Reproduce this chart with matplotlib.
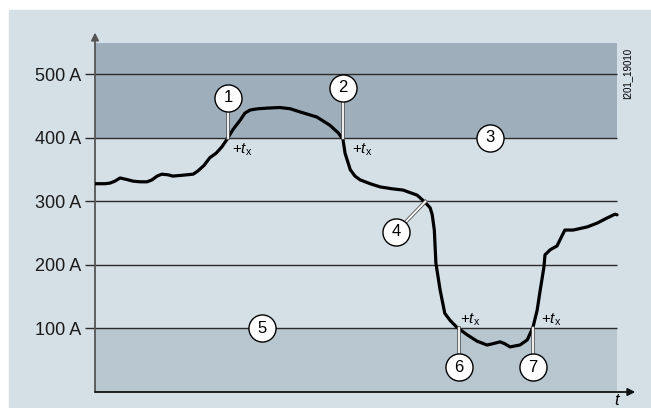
"""Current curve with limit bands and delayed trip points."""

from __future__ import annotations

import matplotlib

matplotlib.use("Agg")

import matplotlib.patheffects as pe
import matplotlib.pyplot as plt
from matplotlib.patches import Rectangle

plt.rcParams["font.family"] = ["Liberation Sans", "DejaVu Sans"]
plt.rcParams["mathtext.fontset"] = "custom"
plt.rcParams["mathtext.it"] = "Liberation Sans:italic"
plt.rcParams["mathtext.rm"] = "Liberation Sans"

# time axis is unitless (0..100), current in A
TIME = [0, 1.9, 2.9, 3.8, 4.8, 5.9, 7.3, 8.6, 10.0, 10.9, 11.9, 12.8, 14.0, 14.9,
        16.3, 17.6, 18.8, 19.7, 20.9, 22.0, 23.2, 24.3, 25.3, 26.4, 27.8, 28.7,
        29.7, 31.2, 33.0, 35.4, 37.4, 39.3, 42.5, 45.0, 46.6, 47.5, 47.9, 48.9,
        49.8, 50.8, 52.7, 54.6, 56.9, 59.0, 61.7, 63.2, 64.2, 64.6, 65.0, 65.3,
        66.1, 67.0, 68.0, 69.3, 71.3, 73.2, 75.1, 76.2, 77.6, 78.5, 79.5, 81.4,
        82.8, 83.9, 84.7, 85.2, 86.0, 86.2, 87.2, 88.5, 90.0, 91.6, 94.3, 96.2,
        98.1, 99.6, 100]
CURRENT = [328, 328, 329, 332, 337, 335, 332, 331, 331, 334, 340, 343, 342, 340,
           341, 342, 343, 348, 357, 369, 376, 386, 398, 413, 428, 439,
           444, 446, 447, 448, 446, 441, 433, 420, 408, 398, 376, 350,
           340, 334, 328, 323, 320, 318, 310, 299, 290, 279, 255, 203,
           161, 124, 113, 102, 90, 80, 74, 76, 79, 76, 71, 74,
           82, 102, 129, 156, 197, 216, 224, 230, 255, 255, 260, 266,
           274, 280, 279]

GRID_LEVELS = [100, 200, 300, 400, 500]
GRID_LABELS = ["100 A", "200 A", "300 A", "400 A", "500 A"]
UPPER_BAND = (400, 550)
LOWER_BAND = (0, 100)

# numbered callouts: label, circle position, leader end (None = no leader)
CALLOUT_LABELS = ["1", "2", "3", "4", "5", "6", "7"]
CALLOUT_POS = [(25.5, 463), (47.5, 479), (75.7, 400), (57.7, 252), (32.0, 100), (69.7, 39), (83.9, 39)]
CALLOUT_TARGET = [(25.5, 400), (47.5, 400), None, (63.3, 300), None, (69.7, 100), (83.9, 100)]

# "+t_x" delay annotations: anchor and vertical alignment
DELAY_POS = [(26.2, 395), (49.2, 395), (69.9, 101), (85.4, 101)]
DELAY_VA = ["top", "top", "bottom", "bottom"]

PANEL_COLOR = "#d5dfe6"
UPPER_COLOR = "#9eafbb"
LOWER_COLOR = "#b8c6d0"


def main() -> None:
    fig = plt.figure(figsize=(6.51, 4.08), dpi=100)
    fig.patches.append(
        Rectangle((9 / 651, 0), 1, 398 / 408, transform=fig.transFigure, color=PANEL_COLOR, zorder=-10)
    )
    ax = fig.add_axes([95 / 651, 16 / 408, 537.7 / 651, 358.8 / 408])
    ax.set_facecolor("none")
    ax.set_xlim(0, 103)
    ax.set_ylim(0, 565)
    for spine in ax.spines.values():
        spine.set_visible(False)

    ax.fill_between([0, 100], *UPPER_BAND, color=UPPER_COLOR, lw=0, zorder=1)
    ax.fill_between([0, 100], *LOWER_BAND, color=LOWER_COLOR, lw=0, zorder=1)
    ax.hlines(GRID_LEVELS, 0, 100, colors="#2b2b2b", lw=1.0, zorder=2)

    ax.set_xticks([])
    ax.set_yticks(GRID_LEVELS, GRID_LABELS)
    ax.tick_params(axis="y", length=7.2, width=1.0, color="#2b2b2b", pad=3, labelsize=13, labelcolor="#1a1a1a")

    ax.annotate("", xy=(0, 566), xytext=(0, 0),
                arrowprops=dict(arrowstyle="-|>", color="#555555", lw=1.3, mutation_scale=11, shrinkA=0, shrinkB=0),
                annotation_clip=False, zorder=3)
    ax.annotate("", xy=(103.5, 0), xytext=(0, 0),
                arrowprops=dict(arrowstyle="-|>", color="#111111", lw=1.3, mutation_scale=11, shrinkA=0, shrinkB=0),
                annotation_clip=False, zorder=3)
    ax.text(100, -24.5, "t", style="italic", fontsize=12, ha="center", va="bottom", clip_on=False)
    ax.text(101.9, 502, "I201_19010", rotation=90, fontsize=7, ha="center", va="center", clip_on=False)

    ax.plot(TIME, CURRENT, color="black", lw=2.3, solid_capstyle="round", solid_joinstyle="round", zorder=4)

    for label, (cx, cy), target in zip(CALLOUT_LABELS, CALLOUT_POS, CALLOUT_TARGET):
        if target is not None:
            ax.plot([cx, target[0]], [cy, target[1]], color="white", lw=1.3, zorder=5,
                    path_effects=[pe.Stroke(linewidth=2.6, foreground="#555555"), pe.Normal()])
        ax.plot(cx, cy, "o", ms=19.5, mfc="white", mec="black", mew=1.0, zorder=6)
        ax.text(cx, cy, label, fontsize=12, ha="center", va="center", zorder=7)

    for (dx, dy), va in zip(DELAY_POS, DELAY_VA):
        ax.text(dx, dy, r"+$t_\mathrm{x}$", fontsize=11, ha="left", va=va, zorder=7)

    fig.savefig("out.png", dpi=100)
    plt.close(fig)


if __name__ == "__main__":
    main()
